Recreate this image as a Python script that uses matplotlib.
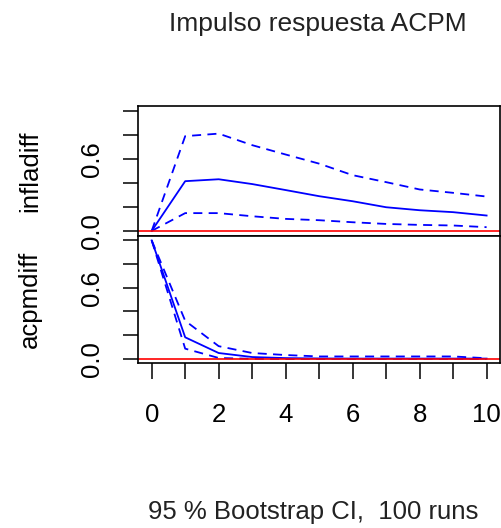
import matplotlib
matplotlib.use("Agg")
import matplotlib.pyplot as plt

plt.rcParams['font.family'] = ['Liberation Sans', 'DejaVu Sans']

# Impulse response horizon
steps = [0, 1, 2, 3, 4, 5, 6, 7, 8, 9, 10]

# Response of infladiff to an ACPM shock
infla_irf = [0.0, 0.414, 0.43, 0.39, 0.34, 0.289, 0.247, 0.197, 0.172, 0.156, 0.128]
infla_upper = [0.0, 0.789, 0.81, 0.714, 0.636, 0.56, 0.464, 0.406, 0.345, 0.317, 0.286]
infla_lower = [0.0, 0.148, 0.148, 0.122, 0.10, 0.089, 0.072, 0.058, 0.05, 0.045, 0.031]

# Response of acpmdiff to its own shock
acpm_irf = [1.0, 0.18, 0.047, 0.013, 0.004, 0.001, 0.0, 0.0, 0.0, 0.0, 0.0]
acpm_upper = [1.0, 0.32, 0.105, 0.047, 0.03, 0.018, 0.018, 0.018, 0.018, 0.018, 0.003]
acpm_lower = [1.0, 0.084, 0.005, -0.002, -0.004, -0.003, -0.003, -0.003, -0.003, -0.003, -0.003]

panels = [
    ("infladiff", infla_irf, infla_upper, infla_lower),
    ("acpmdiff", acpm_irf, acpm_upper, acpm_lower),
]

W, H = 502, 528
fig = plt.figure(figsize=(W / 100, H / 100), dpi=100)

left, right = 138.3, 500.0
edges = [(106.0, 235.7), (235.7, 363.3)]
label_y = [170.8, 299.0]

dash = (0, (5, 3.5))
for i, (name, irf, upper, lower) in enumerate(panels):
    top, bot = edges[i]
    ax = fig.add_axes([left / W, 1 - bot / H, (right - left) / W, (bot - top) / H])
    ax.plot(steps, irf, color='blue', lw=1.3)
    ax.plot(steps, upper, color='blue', lw=1.3, linestyle=dash)
    ax.plot(steps, lower, color='blue', lw=1.3, linestyle=dash)
    ax.axhline(0, color='red', lw=1.2)
    ax.set_xlim(-0.4, 10.4)
    ax.set_ylim(-0.04, 1.04)
    ax.set_yticks([0, 0.2, 0.4, 0.6, 0.8, 1.0])
    ax.set_yticklabels(['0.0', '', '', '0.6', '', ''], rotation=90, va='center')
    ax.tick_params(axis='y', length=10.8, width=1.1, pad=14, labelsize=18.5)
    for s in ax.spines.values():
        s.set_linewidth(1.2)
    if i == 0:
        ax.set_xticks([])
    else:
        ax.set_xticks(steps)
        ax.set_xticklabels([str(s) if s % 2 == 0 else '' for s in steps])
        ax.tick_params(axis='x', length=11.5, width=1.1, pad=17, labelsize=18.5)
    fig.text(37 / W, 1 - label_y[i] / H, name, rotation=90, rotation_mode='anchor',
             ha='center', va='baseline', fontsize=18.5)

fig.text(318 / W, 1 - 24 / H, "Impulso respuesta ACPM", ha='center', va='center',
         fontsize=19, color='#222222')
fig.text(313 / W, 1 - 512 / H, "95 % Bootstrap CI,  100 runs", ha='center', va='center',
         fontsize=18.5, color='#222222')

fig.savefig("out.png", dpi=100)
